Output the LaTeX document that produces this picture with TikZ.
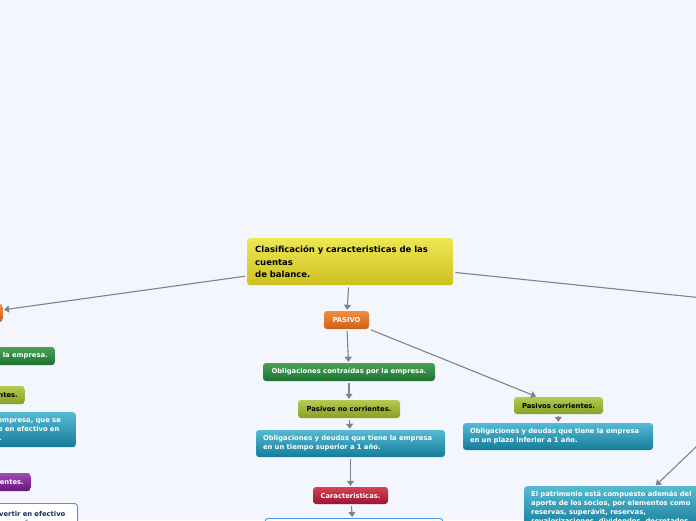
\documentclass[tikz,border=0pt]{standalone}
\usepackage{fontspec}
\setsansfont{DejaVu Sans}
\usepackage{tikz}
\usepackage{xcolor}
\usetikzlibrary{positioning, arrows.meta}
\definecolor{paper}{RGB}{243,246,253}
\definecolor{wire}{RGB}{128,130,138}
\definecolor{yellowTop}{RGB}{238,231,84}
\definecolor{yellowBot}{RGB}{206,192,30}
\definecolor{orangeTop}{RGB}{243,142,62}
\definecolor{orangeBot}{RGB}{204,96,24}
\definecolor{greenTop}{RGB}{72,162,84}
\definecolor{greenBot}{RGB}{30,114,50}
\definecolor{oliveTop}{RGB}{182,202,82}
\definecolor{oliveBot}{RGB}{134,160,36}
\definecolor{tealTop}{RGB}{86,186,210}
\definecolor{tealBot}{RGB}{20,124,154}
\definecolor{redTop}{RGB}{214,66,86}
\definecolor{redBot}{RGB}{158,20,46}
\definecolor{purpleTop}{RGB}{160,72,180}
\definecolor{purpleBot}{RGB}{104,20,126}
\definecolor{frameBlue}{RGB}{72,150,230}
\definecolor{inkBlue}{RGB}{24,44,96}

\begin{document}
\begin{tikzpicture}[x=1pt, y=-1pt,
    topic/.style={rounded corners=3pt, inner xsep=7pt, inner ysep=2pt, minimum height=18pt,
        font=\sffamily\bfseries\fontsize{6.8}{9}\selectfont, text=white},
    central/.style={topic, top color=yellowTop, bottom color=yellowBot, text=black,
        font=\sffamily\bfseries\fontsize{8.5}{12.5}\selectfont, inner xsep=8pt,
        text width=190pt, minimum height=47pt, align=left},
    orangebox/.style={topic, top color=orangeTop, bottom color=orangeBot},
    greenbox/.style={topic, top color=greenTop, bottom color=greenBot},
    olivebox/.style={topic, top color=oliveTop, bottom color=oliveBot, text=black},
    tealbox/.style={topic, top color=tealTop, bottom color=tealBot, align=left},
    redbox/.style={topic, top color=redTop, bottom color=redBot},
    purplebox/.style={topic, top color=purpleTop, bottom color=purpleBot},
    framebox/.style={topic, fill=white, draw=frameBlue, line width=0.9pt, text=inkBlue, align=left},
    branch/.style={draw=wire, line width=1.1pt, shorten <=2pt, shorten >=1pt,
        -{Triangle[width=7pt,length=5pt]}}]
    \useasboundingbox (0,0) rectangle (696,520);
    \fill[paper] (0,0) rectangle (696,520);
    \clip (0,0) rectangle (696,520);

    \node[central, anchor=north west] (raiz) at (247,238)
        {Clasificación y caracteristicas de las\\cuentas\\de balance.};

    \node[orangebox, minimum width=45pt] (pasivo) at (346.5,320) {PASIVO};
    \node[greenbox, minimum width=172pt] (oblig) at (349,372) {Obligaciones contraídas por la empresa.};
    \node[olivebox, minimum width=102pt] (pnc) at (349,409) {Pasivos no corrientes.};
    \node[tealbox, text width=175pt, minimum height=27pt] (pncdef) at (350.5,443.5)
        {Obligaciones y deudas que tiene la empresa\\en un tiempo superior a 1 año.};
    \node[redbox, minimum width=75pt, minimum height=17pt] (caract) at (350.5,495.5) {Caracteristicas.};
    \node[framebox, anchor=north, minimum width=178pt, minimum height=40pt] (caractdef) at (354,518) {};

    \node[olivebox, minimum width=89pt, minimum height=17pt] (pc) at (558.5,405.5) {Pasivos corrientes.};
    \node[tealbox, text width=176pt, minimum height=27pt] (pcdef) at (558,436.5)
        {Obligaciones y deudas que tiene la empresa\\en un plazo inferior a 1 año.};

    \node[tealbox, anchor=north west, text width=202pt, inner ysep=5pt] (patdef) at (524,486)
        {El patrimonio está compuesto además del\\aporte de los socios, por elementos como\\reservas, superávit, reservas,\\revalorizaciones, dividendos, decretados};
    \coordinate (patrimonio) at (800,308);
    \coordinate (patsrc) at (740,405);

    % left branch, mostly outside the frame
    \node[orangebox, anchor=east, minimum width=45pt] (activo) at (3,313) {ACTIVO};
    \node[greenbox, anchor=east] (bdact) at (55,356) {Bienes y derechos de la empresa.};
    \node[olivebox, anchor=east] (acorr) at (25,395) {Activos corrientes.};
    \node[tealbox, anchor=north east, text width=164pt, minimum height=35pt] (acdef) at (76,412)
        {Bienes y derechos de la empresa, que se\\pueden luego convertirse en efectivo en\\un plazo menor a un año.};
    \node[purplebox, anchor=east] (anc) at (31,482) {Activos no corrientes.};
    \node[framebox, anchor=north east, text width=227pt, inner ysep=8pt] (ancdef) at (78,503)
        {Bienes y derechos que no se pueden convertir en efectivo\\ni de forma sencilla, en un plazo inferior a un año.};

    \draw[branch] (raiz) -- (pasivo);
    \draw[branch] (pasivo) -- (oblig);
    \draw[branch] (pasivo) -- (pc);
    \draw[branch] (oblig) -- (pnc);
    \draw[branch] (pnc) -- (pncdef);
    \draw[branch] (pncdef) -- (caract);
    \draw[branch] (caract) -- (caractdef);
    \draw[branch] (pc) -- (pcdef);
    \draw[branch] (raiz) -- (activo);
    \draw[branch] (raiz) -- (patrimonio);
    \draw[branch] (patsrc) -- (patdef);
\end{tikzpicture}
\end{document}
